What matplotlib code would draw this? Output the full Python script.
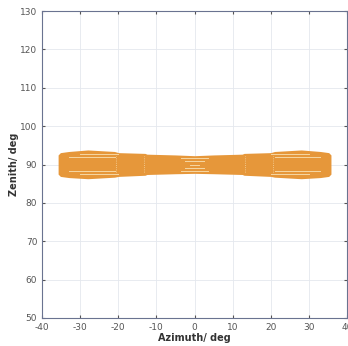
import matplotlib.pyplot as plt
import numpy as np

plt.rcParams['axes.unicode_minus'] = False

# outer envelope of the beam footprint
azimuth = [-35.8, -35.2, -33, -28, -21, -20, -13, -12.5, -5, 0,
           5, 12.5, 13, 20, 21, 28, 33, 35.2, 35.8]
zen_top = [92.5, 93.1, 93.4, 93.8, 93.4, 93.1, 92.9, 92.7, 92.5, 92.3,
           92.5, 92.7, 92.9, 93.1, 93.4, 93.8, 93.4, 93.1, 92.5]
zen_bot = [87.5, 86.9, 86.6, 86.3, 86.7, 86.9, 87.2, 87.4, 87.6, 87.7,
           87.6, 87.4, 87.2, 86.9, 86.7, 86.3, 86.6, 86.9, 87.5]

# inner contour traces (light lines)
seg_x0 = [-33, -33, -30, -30, 21, 21, 20, 20, -3.5, -2.5, -1.2, -2.5, -3.5]
seg_x1 = [-21, -21, -20, -20, 33, 33, 30, 30, 3.5, 2.5, 1.2, 2.5, 3.5]
seg_y = [92.0, 88.2, 92.7, 87.5, 92.0, 88.2, 92.7, 87.5, 91.8, 91.0, 90.0, 89.0, 88.4]
vert_x = [-20.5, -13.2, 13.2, 20.5]

orange = '#E6973A'
light = '#F6D7A4'

fig = plt.figure(figsize=(3.48, 3.46), dpi=100)
ax = fig.add_axes([0.121, 0.081, 0.876, 0.887])

ax.fill_between(azimuth, zen_bot, zen_top, color=orange, lw=0)
for x0, x1, y in zip(seg_x0, seg_x1, seg_y):
    ax.plot([x0, x1], [y, y], color=light, lw=0.7)
for vx in vert_x:
    ax.plot([vx, vx], [88.0, 92.3], color=light, lw=0.6, ls=':')

ax.set_xlim(-40, 40)
ax.set_ylim(50, 130)
ax.set_xticks(np.arange(-40, 41, 10))
ax.set_yticks(np.arange(50, 131, 10))
ax.grid(True, color='#E4E8EE', lw=0.6)
ax.set_axisbelow(True)
ax.tick_params(direction='in', length=2.5, labelsize=6.5, colors='#555555',
               top=True, right=True)
for s in ax.spines.values():
    s.set_color('#6A7390')
    s.set_linewidth(0.8)
ax.set_xlabel('Azimuth/ deg', fontsize=7, fontweight='bold', color='#333333', labelpad=1)
ax.set_ylabel('Zenith/ deg', fontsize=7, fontweight='bold', color='#333333', labelpad=1)

fig.savefig('out.png', dpi=100)
